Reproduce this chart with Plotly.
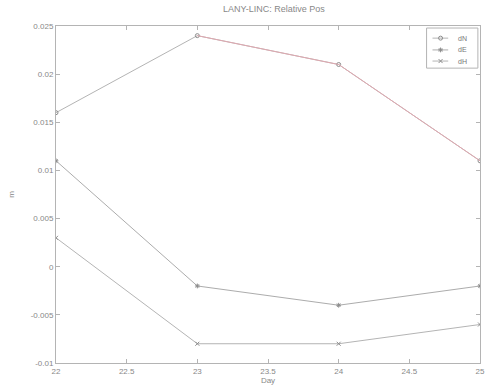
import plotly.graph_objects as go

days = [22, 23, 24, 25]
dN = [0.016, 0.024, 0.021, 0.011]
dE = [0.011, -0.002, -0.004, -0.002]
dH = [0.003, -0.008, -0.008, -0.006]

series_names = ["dN", "dE", "dH"]

x_ticks = [22, 22.5, 23, 23.5, 24, 24.5, 25]
x_labels = ["22", "22.5", "23", "23.5", "24", "24.5", "25"]
y_ticks = [-0.01, -0.005, 0, 0.005, 0.01, 0.015, 0.02, 0.025]
y_labels = ["-0.01", "-0.005", "0", "0.005", "0.01", "0.015", "0.02", "0.025"]

line_colors = ["#b4b4b4", "#acacac", "#b4b4b4"]
marker_syms = ["circle-open", "asterisk-open", "x-thin-open"]

fig = go.Figure()
for ys, nm, lc, ms in zip([dN, dE, dH], series_names, line_colors, marker_syms):
    fig.add_trace(go.Scatter(x=days, y=ys, name=nm, mode="lines+markers",
                             line=dict(color=lc, width=1),
                             marker=dict(symbol=ms, size=4, color="#8c8c8c")))
# reddish overlay for later part of dN
fig.add_trace(go.Scatter(x=days[1:], y=dN[1:], showlegend=False, mode="lines",
                         line=dict(color="#e0a8b0", width=1), hoverinfo="skip"))

# manual compact legend (markers on a hidden overlay axis 0..1)
leg_y = [0.964, 0.929, 0.896]
fig.add_shape(type="rect", xref="paper", yref="paper", x0=0.874, x1=0.995, y0=0.875, y1=0.994,
              line=dict(color="#b4b4b4", width=1), fillcolor="white", layer="below")
for yy, nm, lc, ms in zip(leg_y, series_names, line_colors, marker_syms):
    fig.add_shape(type="line", xref="paper", yref="paper", x0=0.888, x1=0.925, y0=yy, y1=yy,
                  line=dict(color=lc, width=1), layer="below")
    fig.add_trace(go.Scatter(x=[0.907], y=[yy], xaxis="x2", yaxis="y2", mode="markers",
                             showlegend=False, hoverinfo="skip",
                             marker=dict(symbol=ms, size=4, color="#8c8c8c")))
    fig.add_annotation(x=0.944, y=yy, xref="paper", yref="paper", text=nm, showarrow=False,
                       xanchor="left", yanchor="middle", font=dict(size=7, color="#777777"))

fig.update_layout(
    width=489, height=389,
    margin=dict(l=56, r=4, t=26, b=26),
    paper_bgcolor="white", plot_bgcolor="white",
    font=dict(family="Liberation Sans, Arial", size=8, color="#888888"),
    title=dict(text="LANY-LINC: Relative Pos", x=0.56, xanchor="center", y=0.97, yanchor="bottom",
               font=dict(size=9, color="#888888")),
    xaxis=dict(range=[22, 25], tickvals=x_ticks, ticktext=x_labels, showgrid=False, zeroline=False,
               showline=True, linecolor="#b4b4b4", mirror="ticks", ticks="inside", ticklen=4,
               tickcolor="#b4b4b4", ticklabeloverflow="allow",
               title=dict(text="Day", standoff=2, font=dict(size=8))),
    yaxis=dict(range=[-0.01, 0.025], tickvals=y_ticks, ticktext=y_labels, showgrid=False, zeroline=False,
               showline=True, linecolor="#b4b4b4", mirror="ticks", ticks="inside", ticklen=4,
               tickcolor="#b4b4b4", title=dict(text="m", standoff=14, font=dict(size=8))),
    xaxis2=dict(range=[0, 1], overlaying="x", visible=False, fixedrange=True),
    yaxis2=dict(range=[0, 1], overlaying="y", visible=False, fixedrange=True),
    showlegend=False,
)

fig.write_html("out.html")
